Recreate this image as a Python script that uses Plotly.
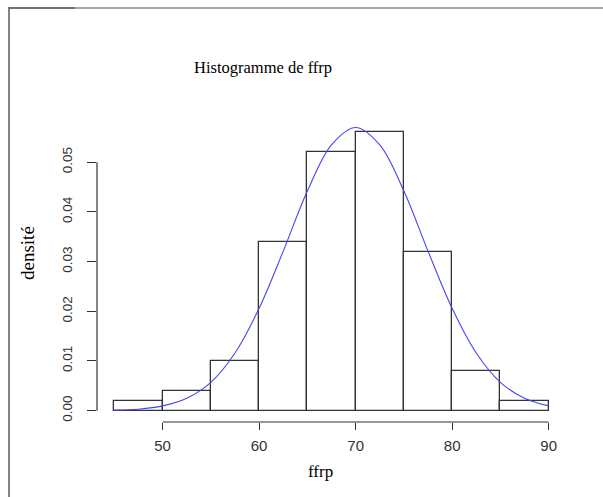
import plotly.graph_objects as go

# ---- data ----
bin_edges = [45, 50, 55, 60, 65, 70, 75, 80, 85, 90]
densities = [0.002, 0.004, 0.010, 0.034, 0.052, 0.056, 0.032, 0.008, 0.002]
curve_x = [45, 47.5, 50, 52.5, 55, 57.5, 60, 62.5, 65, 67.5, 70,
           72.5, 75, 77.5, 80, 82.5, 85, 87.5, 90]
curve_y = [0.0001, 0.0003, 0.00096, 0.0025, 0.0057, 0.0116, 0.0206, 0.0321,
           0.0442, 0.0535, 0.0570, 0.0535, 0.0442, 0.0321, 0.0206, 0.0116,
           0.0057, 0.0025, 0.00096]
x_ticks = [50, 60, 70, 80, 90]
y_ticks = [0.00, 0.01, 0.02, 0.03, 0.04, 0.05]
y_tick_text = ["0.00", "0.01", "0.02", "0.03", "0.04", "0.05"]
title_text = "Histogramme de ffrp"
x_label = "ffrp"
y_label = "densité"

W, H = 603, 497
L, R, T, B = 97, 37, 116, 75
pw, ph = W - L - R, H - T - B

def px_x(px):
    return (px - L) / pw

def px_y(py):
    return 1 - (py - T) / ph

centers = [(a + b) / 2 for a, b in zip(bin_edges[:-1], bin_edges[1:])]
widths = [b - a for a, b in zip(bin_edges[:-1], bin_edges[1:])]

fig = go.Figure()
fig.add_trace(go.Bar(
    x=centers, y=densities, width=widths,
    marker=dict(color="white", line=dict(color="#333333", width=1.3)),
    hoverinfo="x+y", showlegend=False,
))
fig.add_trace(go.Scatter(
    x=curve_x, y=curve_y, mode="lines",
    line=dict(color="#4545f5", width=1.1, shape="spline", smoothing=1.0),
    showlegend=False,
))

sans = "Liberation Sans, Arial, sans-serif"
serif = "Liberation Serif, Times New Roman, serif"

fig.update_layout(
    width=W, height=H,
    margin=dict(l=L, r=R, t=T, b=B, pad=0),
    paper_bgcolor="white", plot_bgcolor="white",
    bargap=0,
    xaxis=dict(
        range=[43.2, 91.8], tickvals=x_ticks, ticks="outside", ticklen=7,
        tickwidth=1.2, tickcolor="#333333", showgrid=False, zeroline=False,
        showline=False, tickfont=dict(family=sans, size=15, color="#333333"),
        ticklabelstandoff=3,
    ),
    yaxis=dict(
        range=[-0.00228, 0.0593], tickvals=y_ticks, ticktext=y_tick_text,
        ticks="outside", ticklen=9, tickwidth=1.2, tickcolor="#333333",
        showgrid=False, zeroline=False, showline=False,
        tickfont=dict(family=sans, size=13.5, color="#333333"),
        tickangle=-90, ticklabelstandoff=10,
    ),
    shapes=[
        # R-style axis lines spanning first to last tick
        dict(type="line", xref="x", yref="paper", x0=x_ticks[0], x1=x_ticks[-1],
             y0=0, y1=0, line=dict(color="#333333", width=1.2)),
        dict(type="line", xref="paper", yref="y", x0=0, x1=0,
             y0=y_ticks[0], y1=y_ticks[-1], line=dict(color="#333333", width=1.2)),
        # outer frame of the screenshot
        dict(type="line", xref="paper", yref="paper", x0=px_x(8), x1=px_x(75),
             y0=px_y(8), y1=px_y(8), line=dict(color="#444444", width=1.5)),
        dict(type="line", xref="paper", yref="paper", x0=px_x(75), x1=px_x(603),
             y0=px_y(8), y1=px_y(8), line=dict(color="#888888", width=1.5)),
        dict(type="line", xref="paper", yref="paper", x0=px_x(9), x1=px_x(9),
             y0=px_y(8), y1=px_y(497), line=dict(color="#777777", width=1.8)),
    ],
    annotations=[
        dict(text=title_text, xref="paper", yref="paper", x=px_x(263), y=px_y(67),
             showarrow=False, font=dict(family=serif, size=16.5, color="black"),
             xanchor="center", yanchor="middle"),
        dict(text=x_label, xref="paper", yref="paper", x=px_x(320), y=px_y(471),
             showarrow=False, font=dict(family=serif, size=17, color="black"),
             xanchor="center", yanchor="middle"),
        dict(text=y_label, xref="paper", yref="paper", x=px_x(27), y=px_y(253),
             showarrow=False, textangle=-90,
             font=dict(family=serif, size=19, color="black"),
             xanchor="center", yanchor="middle"),
    ],
)

fig.write_html("out.html")
